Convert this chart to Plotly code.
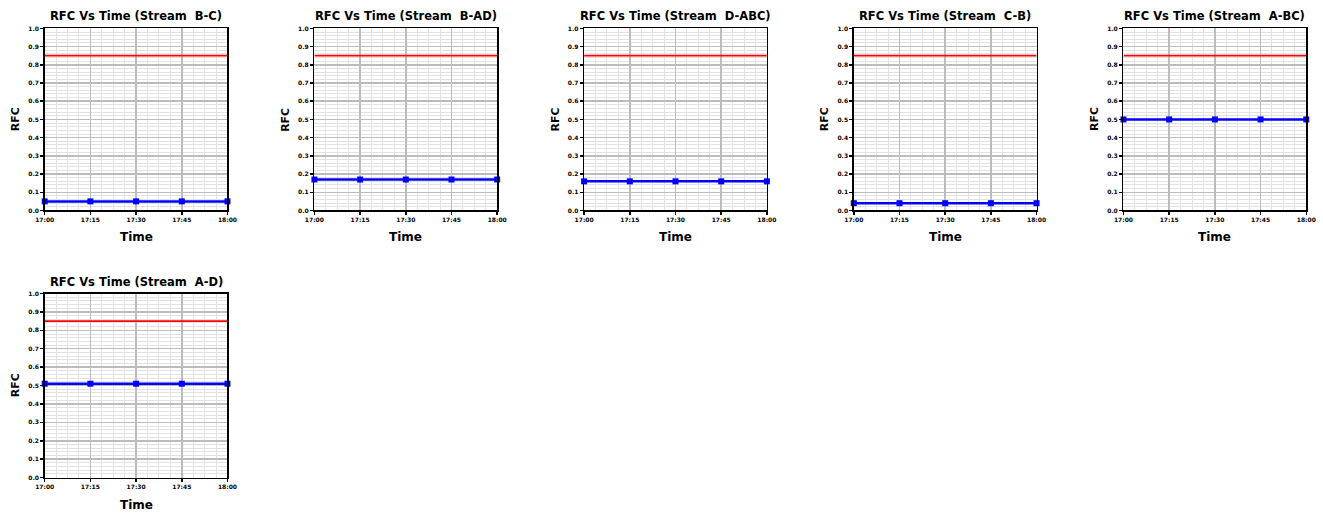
import plotly.graph_objects as go

W, H = 1323, 515

streams = ["B-C", "B-AD", "D-ABC", "C-B", "A-BC", "A-D"]
rfc_values = [
    [0.05, 0.05, 0.05, 0.05, 0.05],
    [0.17, 0.17, 0.17, 0.17, 0.17],
    [0.16, 0.16, 0.16, 0.16, 0.16],
    [0.04, 0.04, 0.04, 0.04, 0.04],
    [0.50, 0.50, 0.50, 0.50, 0.50],
    [0.51, 0.51, 0.51, 0.51, 0.51],
]
threshold = 0.85
time_labels = ["17:00", "17:15", "17:30", "17:45", "18:00"]
y_ticks = [0.0, 0.1, 0.2, 0.3, 0.4, 0.5, 0.6, 0.7, 0.8, 0.9, 1.0]
y_tick_labels = ["0.0", "0.1", "0.2", "0.3", "0.4", "0.5", "0.6", "0.7", "0.8", "0.9", "1.0"]

x_idx = list(range(len(time_labels)))

# panel pixel geometry, as measured on the target picture
col_left = [44, 314, 584, 854, 1124]
plot_w = 183
rows = [(28, 210), (293, 477)]

# the photographed page appears slightly shrunk about its centre; compensate
S = 0.986
CX, CY = W / 2, H / 2

fig = go.Figure()
layout = {}
annotations = []
font_family = "DejaVu Sans, Arial, sans-serif"


def px_x(p):
    return (CX + (p - CX) / S) / W


def px_y(p):
    return 1 - (CY + (p - CY) / S) / H


for i, (name, vals) in enumerate(zip(streams, rfc_values)):
    r, c = divmod(i, 5)
    left = col_left[c]
    top, bottom = rows[r]
    n = i + 1
    xa = "xaxis" if n == 1 else f"xaxis{n}"
    ya = "yaxis" if n == 1 else f"yaxis{n}"
    xr = "x" if n == 1 else f"x{n}"
    yr = "y" if n == 1 else f"y{n}"
    xdom = [px_x(left), px_x(left + plot_w)]
    ydom = [px_y(bottom), px_y(top)]

    fig.add_trace(go.Scatter(
        x=x_idx, y=[threshold] * len(x_idx), mode="lines",
        line=dict(color="#ff0000", width=1.8), xaxis=xr, yaxis=yr,
        showlegend=False, hoverinfo="skip"))
    fig.add_trace(go.Scatter(
        x=x_idx, y=vals, mode="lines+markers",
        line=dict(color="#0000ff", width=2.5),
        marker=dict(symbol="square", size=6, color="#0000ff"),
        xaxis=xr, yaxis=yr, showlegend=False, cliponaxis=False))

    common = dict(
        tickfont=dict(size=6, family=font_family, color="black", weight="bold"),
        ticks="outside", ticklen=3, tickwidth=1.5, tickcolor="black",
        showline=True, linecolor="black", linewidth=1.5, mirror=True,
        showgrid=True, gridcolor="#bcbcbc", gridwidth=1.5,
        zeroline=False, fixedrange=True)
    layout[xa] = dict(
        domain=xdom, anchor=yr, range=[0, 4],
        tickmode="array", tickvals=x_idx, ticktext=time_labels,
        minor=dict(dtick=0.25, showgrid=True, gridcolor="#e2e2e2", gridwidth=1),
        **common)
    layout[ya] = dict(
        domain=ydom, anchor=xr, range=[0, 1],
        tickmode="array", tickvals=y_ticks, ticktext=y_tick_labels,
        minor=dict(dtick=0.02, showgrid=True, gridcolor="#e2e2e2", gridwidth=1),
        **common)

    cx = px_x(left + plot_w / 2)
    annotations.append(dict(
        text=f"RFC Vs Time (Stream  {name})", x=cx, y=px_y(top - 12),
        xref="paper", yref="paper", showarrow=False, xanchor="center", yanchor="middle",
        font=dict(size=11.5, family=font_family, color="black", weight="bold")))
    annotations.append(dict(
        text="Time", x=cx, y=px_y(bottom + 27),
        xref="paper", yref="paper", showarrow=False, xanchor="center", yanchor="middle",
        font=dict(size=12, family=font_family, color="black", weight="bold")))
    annotations.append(dict(
        text="RFC", x=px_x(left - 29), y=px_y((top + bottom) / 2),
        xref="paper", yref="paper", showarrow=False, xanchor="center", yanchor="middle",
        textangle=-90,
        font=dict(size=11, family=font_family, color="black", weight="bold")))

fig.update_layout(
    width=W, height=H, margin=dict(l=0, r=0, t=0, b=0),
    paper_bgcolor="white", plot_bgcolor="white",
    annotations=annotations, **layout)

fig.write_html(
    "out.html",
    config={"displayModeBar": False, "staticPlot": True},
    post_script="document.body.style.margin='0';document.body.style.overflow='hidden';")
